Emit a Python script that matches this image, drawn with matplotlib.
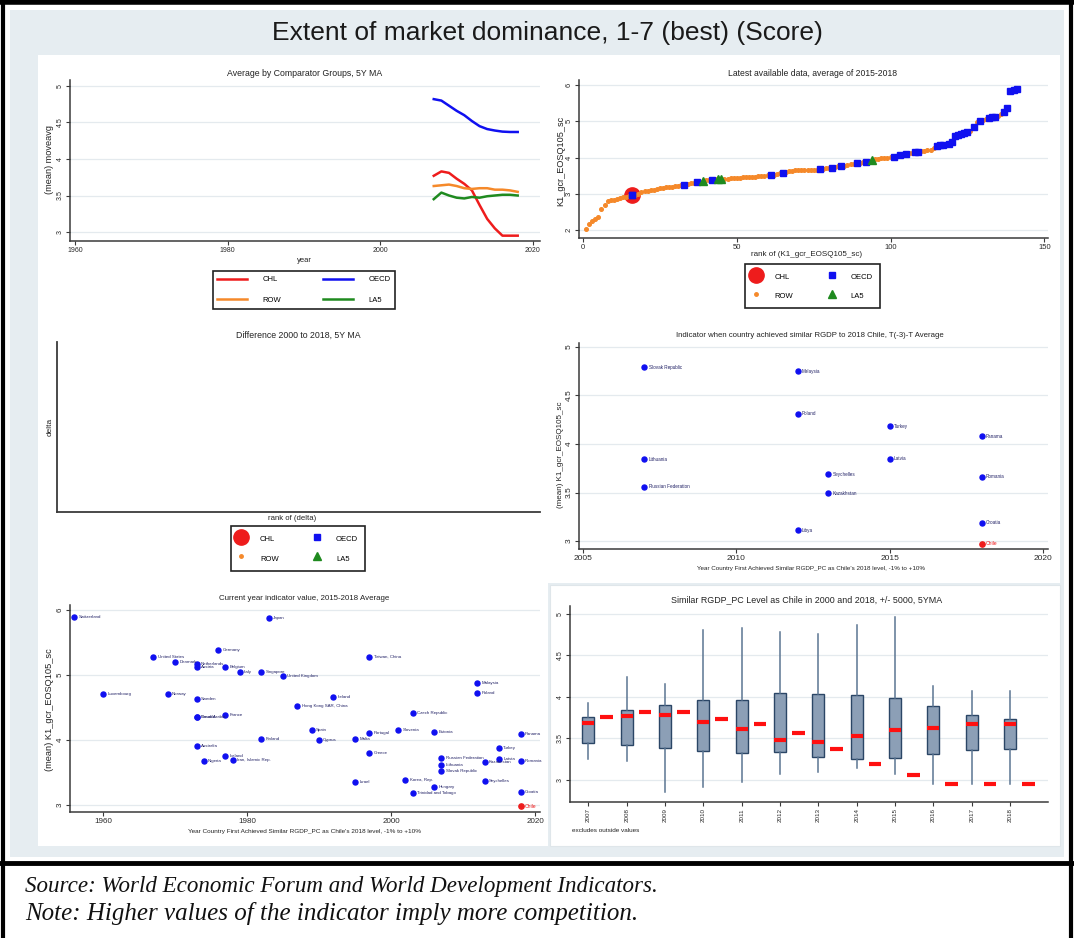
import matplotlib.pyplot as plt
from matplotlib.patches import Rectangle
from matplotlib.lines import Line2D

plt.rcParams['font.family'] = ['Liberation Sans', 'DejaVu Sans']

W, H = 1074, 938

# ---------------- data ----------------
ma_years = list(range(2007, 2019))
ma_chl = [3.77, 3.83, 3.81, 3.73, 3.66, 3.57, 3.37, 3.18, 3.05, 2.95, 2.95, 2.95]
ma_oecd = [4.82, 4.80, 4.73, 4.66, 4.60, 4.52, 4.45, 4.41, 4.39, 4.375, 4.37, 4.37]
ma_row = [3.63, 3.64, 3.65, 3.63, 3.60, 3.59, 3.60, 3.60, 3.58, 3.58, 3.57, 3.55]
ma_la5 = [3.45, 3.54, 3.50, 3.47, 3.46, 3.48, 3.47, 3.49, 3.50, 3.51, 3.51, 3.50]

# sorted scores, rank = position in list
rank_score = [
    2.03, 2.18, 2.25, 2.31, 2.37, 2.57, 2.70, 2.80, 2.82, 2.84,
    2.86, 2.88, 2.90, 2.92, 2.94, 2.96, 2.97, 3.00, 3.04, 3.07,
    3.09, 3.10, 3.11, 3.13, 3.15, 3.17, 3.18, 3.19, 3.20, 3.21,
    3.22, 3.23, 3.24, 3.26, 3.29, 3.31, 3.32, 3.33, 3.35, 3.37,
    3.38, 3.39, 3.40, 3.41, 3.42, 3.42, 3.42, 3.43, 3.43, 3.44,
    3.44, 3.45, 3.45, 3.46, 3.47, 3.47, 3.48, 3.49, 3.50, 3.51,
    3.51, 3.53, 3.54, 3.56, 3.58, 3.60, 3.62, 3.64, 3.65, 3.65,
    3.66, 3.66, 3.66, 3.67, 3.67, 3.67, 3.68, 3.69, 3.70, 3.71,
    3.72, 3.75, 3.76, 3.77, 3.78, 3.80, 3.82, 3.83, 3.84, 3.86,
    3.88, 3.89, 3.90, 3.92, 3.95, 3.97, 3.98, 3.99, 4.00, 4.01,
    4.02, 4.03, 4.06, 4.10, 4.11, 4.12, 4.13, 4.14, 4.16, 4.17,
    4.18, 4.20, 4.22, 4.26, 4.32, 4.35, 4.36, 4.37, 4.38, 4.42,
    4.60, 4.63, 4.66, 4.68, 4.70, 4.72, 4.85, 4.97, 5.00, 5.03,
    5.05, 5.10, 5.12, 5.13, 5.15, 5.20, 5.25, 5.37, 5.85, 5.87, 5.88]
# R = rest of world, O = OECD, L = LA5, C = Chile (also OECD)
rank_group = list("RRRRRRRRRR" "RRRRRRCRRR" "RRRRRRRRRR" "RRRORRRORL"
                  "RRORLLRRRR" "RRRRRRRRRR" "RORRRORRRR" "RRRRRRRORR"
                  "RORRORRRRO" "RRORLRRRRR" "RORORORROO" "RRRRROOORO"
                  "OOOOOOROROR" "ROOORROOOOO"[1:])

mr_country = ['Slovak Republic', 'Malaysia', 'Poland', 'Turkey', 'Panama', 'Lithuania', 'Latvia',
              'Seychelles', 'Romania', 'Russian Federation', 'Kazakhstan', 'Croatia', 'Libya']
mr_year = [2007, 2012, 2012, 2015, 2018, 2007, 2015, 2013, 2018, 2007, 2013, 2018, 2012]
mr_value = [4.79, 4.75, 4.31, 4.18, 4.08, 3.84, 3.85, 3.69, 3.66, 3.56, 3.49, 3.19, 3.11]
mr_chile = (2018, 2.97)

bl_country = ['Switzerland', 'Japan', 'Germany', 'United States', 'Denmark', 'Netherlands', 'Austria',
              'Belgium', 'Italy', 'Singapore', 'United Kingdom', 'Taiwan, China', 'Luxembourg', 'Norway',
              'Sweden', 'Ireland', 'Hong Kong SAR, China', 'Canada', 'Saudi Arabia', 'France',
              'Malaysia', 'Poland', 'Czech Republic', 'Spain', 'Slovenia', 'Estonia', 'Portugal',
              'Panama', 'Finland', 'Cyprus', 'Malta', 'Australia', 'Greece', 'Turkey', 'Iceland',
              'Iran, Islamic Rep.', 'Nigeria', 'Russian Federation', 'Latvia', 'Kazakhstan', 'Romania',
              'Lithuania', 'Slovak Republic', 'Korea, Rep.', 'Israel', 'Seychelles', 'Hungary',
              'Trinidad and Tobago', 'Croatia']
bl_year = [1956, 1983, 1976, 1967, 1970, 1973, 1973, 1977, 1979, 1982, 1985, 1997, 1960, 1969,
           1973, 1992, 1987, 1973, 1973, 1977, 2012, 2012, 2003, 1989, 2001, 2006, 1997,
           2018, 1982, 1990, 1995, 1973, 1997, 2015, 1977, 1978, 1974, 2007, 2015, 2013, 2018,
           2007, 2007, 2002, 1995, 2013, 2006, 2003, 2018]
bl_value = [5.89, 5.88, 5.39, 5.27, 5.20, 5.17, 5.13, 5.13, 5.04, 5.04, 4.99, 5.28, 4.71, 4.71,
            4.63, 4.66, 4.53, 4.35, 4.35, 4.38, 4.87, 4.73, 4.42, 4.15, 4.15, 4.12, 4.10,
            4.09, 4.02, 4.00, 4.02, 3.91, 3.80, 3.87, 3.76, 3.69, 3.67, 3.73, 3.71, 3.66, 3.67,
            3.61, 3.53, 3.38, 3.35, 3.37, 3.27, 3.18, 3.20]
bl_chile = (2018, 2.98)

box_years = [2007, 2008, 2009, 2010, 2011, 2012, 2013, 2014, 2015, 2016, 2017, 2018]
box_lo = [3.25, 3.23, 2.85, 2.91, 2.98, 3.07, 3.10, 3.15, 3.07, 2.95, 2.95, 2.95]
box_q1 = [3.45, 3.42, 3.38, 3.35, 3.33, 3.34, 3.28, 3.25, 3.26, 3.31, 3.36, 3.37]
box_med = [3.69, 3.77, 3.78, 3.70, 3.62, 3.48, 3.46, 3.53, 3.60, 3.63, 3.67, 3.68]
box_q3 = [3.76, 3.84, 3.90, 3.96, 3.96, 4.05, 4.03, 4.02, 3.99, 3.89, 3.78, 3.74]
box_hi = [3.93, 4.24, 4.16, 4.81, 4.83, 4.78, 4.76, 4.87, 4.96, 4.13, 4.07, 4.07]
box_chile = [3.76, 3.82, 3.82, 3.74, 3.67, 3.57, 3.37, 3.19, 3.06, 2.95, 2.95, 2.95]

C_RED, C_BLUE, C_ORANGE, C_GREEN = '#ee1c1c', '#1010f0', '#f5892a', '#1f8a1f'
AX_C = '#3a3a3a'

# ---------------- helpers ----------------
fig = plt.figure(figsize=(W / 100, H / 100), dpi=100)
fig.patch.set_facecolor('white')


def rect(x0, y0, x1, y1, fc, ec='none', lw=0):
    fig.add_artist(Rectangle((x0 / W, 1 - y1 / H), (x1 - x0) / W, (y1 - y0) / H,
                             transform=fig.transFigure, facecolor=fc, edgecolor=ec, lw=lw,
                             zorder=-10))


def fline(x0, y0, x1, y1, lw=3.2):
    fig.add_artist(Line2D([x0 / W, x1 / W], [1 - y0 / H, 1 - y1 / H],
                          transform=fig.transFigure, color='black', lw=lw, zorder=-5))


def ftext(x, y, s, width=None, **kw):
    kw.setdefault('ha', 'center')
    kw.setdefault('va', 'center')
    kw.setdefault('color', '#222222')
    t = fig.text(x / W, 1 - y / H, s, **kw)
    if width:
        bb = t.get_window_extent(fig.canvas.get_renderer())
        t.set_fontsize(t.get_fontsize() * width / max(bb.width, bb.height))
    return t


def px_axes(x0, y0, x1, y1):
    a = fig.add_axes([x0 / W, 1 - y1 / H, (x1 - x0) / W, (y1 - y0) / H])
    a.patch.set_alpha(0)
    return a


def stata(ax, size=5):
    ax.spines[['top', 'right']].set_visible(False)
    for s in ['left', 'bottom']:
        ax.spines[s].set_color(AX_C)
        ax.spines[s].set_linewidth(1.1)
    ax.tick_params(labelsize=size, length=3, width=0.8, color=AX_C, labelcolor='#2a2a2a', pad=1.5)
    ax.grid(axis='y', color='#e4eaee', lw=0.9)
    ax.set_axisbelow(True)
    plt.setp(ax.get_yticklabels(), rotation=90, va='center')


def marker_legend(ax, cx, cy, fs=5.5):
    hs = [Line2D([], [], marker='o', ls='none', color=C_RED, ms=11),
          Line2D([], [], marker='o', ls='none', color=C_ORANGE, ms=2.5),
          Line2D([], [], marker='s', ls='none', color=C_BLUE, ms=3.8),
          Line2D([], [], marker='^', ls='none', color=C_GREEN, ms=5.5)]
    leg = ax.legend(hs, ['CHL', 'ROW', 'OECD', 'LA5'], ncol=2, loc='center',
                    bbox_to_anchor=(cx / W, 1 - cy / H), bbox_transform=fig.transFigure,
                    fontsize=fs, fancybox=False, edgecolor='#222222', framealpha=1,
                    handlelength=0.9, handleheight=2.0, handletextpad=2.0,
                    columnspacing=4.6, labelspacing=1.0, borderpad=0.9)
    leg.get_frame().set_linewidth(1.2)
    return leg


# ---------------- backgrounds & frame ----------------
rect(10, 10, 1064, 857, '#e6edf1')
rect(38, 55, 1060, 583, 'white')
rect(38, 583, 548, 846, 'white')
rect(550, 585, 1060, 846, 'white', ec='#dfe6ea', lw=0.8)
fline(0, 2, W, 2, lw=4)
fline(3, 0, 3, H, lw=3)
fline(1071, 0, 1071, H, lw=3)
fline(0, 863, W, 863, lw=3.5)

ftext(547, 33, 'Extent of market dominance, 1-7 (best) (Score)', width=551, fontsize=17, color='#1a1a1a')
ftext(25, 886, 'Source: World Economic Forum and World Development Indicators.', width=635,
      ha='left', fontsize=15, family=['Liberation Serif'], style='italic', color='#111111')
ftext(25, 913, 'Note: Higher values of the indicator imply more competition.', width=615,
      ha='left', fontsize=15, family=['Liberation Serif'], style='italic', color='#111111')

# ---------------- top-left: moving averages ----------------
ax = px_axes(70, 80, 540, 241)
ax.plot(ma_years, ma_chl, color=C_RED, lw=1.8)
ax.plot(ma_years, ma_oecd, color=C_BLUE, lw=1.8)
ax.plot(ma_years, ma_row, color=C_ORANGE, lw=1.8)
ax.plot(ma_years, ma_la5, color=C_GREEN, lw=1.8)
ax.set_xlim(1959.35, 2020.92)
ax.set_ylim(2.877, 5.082)
ax.set_xticks([1960, 1980, 2000, 2020])
ax.set_yticks([3, 3.5, 4, 4.5, 5], ['3', '3.5', '4', '4.5', '5'])
stata(ax, 5)
ftext(305, 73, 'Average by Comparator Groups, 5Y MA', width=156)
ftext(50, 160, '(mean) moveavg', width=69, rotation=90)
ftext(304, 261, 'year', width=15)
hs = [Line2D([], [], color=c, lw=1.8) for c in [C_RED, C_ORANGE, C_BLUE, C_GREEN]]
leg = ax.legend(hs, ['CHL', 'ROW', 'OECD', 'LA5'], ncol=2, loc='center',
                bbox_to_anchor=(304 / W, 1 - 290 / H), bbox_transform=fig.transFigure,
                fontsize=5.5, fancybox=False, edgecolor='#222222', framealpha=1,
                handlelength=3.9, handletextpad=2.0, columnspacing=5.5, labelspacing=1.75,
                borderpad=0.6)
leg.get_frame().set_linewidth(1.2)

# ---------------- top-right: ranking ----------------
ax = px_axes(579, 80, 1048, 238)
ranks = list(range(1, len(rank_score) + 1))
for g, kw in [('R', dict(marker='o', color=C_ORANGE, ms=2.6)),
              ('O', dict(marker='s', color=C_BLUE, ms=3.8)),
              ('L', dict(marker='^', color=C_GREEN, ms=5.5))]:
    xs = [r for r, gg in zip(ranks, rank_group) if gg == g or (g == 'O' and gg == 'C')]
    ys = [v for v, gg in zip(rank_score, rank_group) if gg == g or (g == 'O' and gg == 'C')]
    ax.plot(xs, ys, ls='none', **kw)
xs = [r for r, gg in zip(ranks, rank_group) if gg == 'C']
ys = [v for v, gg in zip(rank_score, rank_group) if gg == 'C']
ax.plot(xs, ys, ls='none', marker='o', color=C_RED, ms=11, zorder=1.5)
ax.plot(xs, ys, ls='none', marker='s', color=C_BLUE, ms=3.8, zorder=3)
ax.set_xlim(-1.3, 151.2)
ax.set_ylim(1.78, 6.14)
ax.set_xticks([0, 50, 100, 150])
ax.set_yticks([2, 3, 4, 5, 6])
stata(ax, 5.5)
ftext(813, 73, 'Latest available data, average of 2015-2018', width=170)
ftext(561, 161, 'K1_gcr_EOSQ105_sc', width=90, rotation=90)
ftext(807, 254, 'rank of (K1_gcr_EOSQ105_sc)', width=112)
marker_legend(ax, 812.5, 286)

# ---------------- middle-left: empty delta ----------------
ax = px_axes(57, 342, 540, 512)
ax.spines[['top', 'right']].set_visible(False)
for s in ['left', 'bottom']:
    ax.spines[s].set_color(AX_C)
    ax.spines[s].set_linewidth(1.3)
ax.set_xticks([])
ax.set_yticks([])
ftext(298, 335, 'Difference 2000 to 2018, 5Y MA', width=125)
ftext(50, 427, 'delta', width=18, rotation=90)
ftext(292, 518, 'rank of (delta)', width=48)
marker_legend(ax, 298, 548.5)

# ---------------- middle-right: similar RGDP ----------------
ax = px_axes(579, 343, 1048, 549)
ax.plot(mr_year, mr_value, ls='none', marker='o', color=C_BLUE, ms=3.6)
for name, x, y in zip(mr_country, mr_year, mr_value):
    ax.annotate(name, (x, y), xytext=(3, 0), textcoords='offset points', fontsize=3.3,
                va='center', color='#222266')
ax.plot([mr_chile[0]], [mr_chile[1]], ls='none', marker='o', color=C_RED, ms=3.8)
ax.annotate('Chile', mr_chile, xytext=(3, 0), textcoords='offset points', fontsize=3.6,
            va='center', color=C_RED)
ax.set_xlim(2004.87, 2020.16)
ax.set_ylim(2.918, 5.04)
ax.set_xticks([2005, 2010, 2015, 2020])
ax.set_yticks([3, 3.5, 4, 4.5, 5], ['3', '3.5', '4', '4.5', '5'])
stata(ax, 6)
ftext(810, 335, 'Indicator when country achieved similar RGDP to 2018 Chile, T(-3)-T Average', width=267)
ftext(561, 455, '(mean) K1_gcr_EOSQ105_sc', width=107, rotation=90)
ftext(811, 568, "Year Country First Achieved Similar RGDP_PC as Chile's 2018 level, -1% to +10%", width=228)

# ---------------- bottom-left: current year ----------------
ax = px_axes(70, 605, 540, 812)
ax.plot(bl_year, bl_value, ls='none', marker='o', color=C_BLUE, ms=3.6)
for name, x, y in zip(bl_country, bl_year, bl_value):
    ax.annotate(name, (x, y), xytext=(3, 0), textcoords='offset points', fontsize=3.2,
                va='center', color='#222266')
ax.plot([bl_chile[0]], [bl_chile[1]], ls='none', marker='o', color=C_RED, ms=3.8)
ax.annotate('Chile', bl_chile, xytext=(3, 0), textcoords='offset points', fontsize=3.6,
            va='center', color=C_RED)
ax.set_xlim(1955.42, 2020.69)
ax.set_ylim(2.892, 6.077)
ax.set_xticks([1960, 1980, 2000, 2020])
ax.set_yticks([3, 4, 5, 6])
stata(ax, 5.8)
ftext(304, 598, 'Current year indicator value, 2015-2018 Average', width=171)
ftext(50, 710, '(mean) K1_gcr_EOSQ105_sc', width=123, rotation=90)
ftext(304, 831, "Year Country First Achieved Similar RGDP_PC as Chile's 2018 level, -1% to +10%", width=233)

# ---------------- bottom-right: boxplots ----------------
ax = px_axes(570, 606, 1048, 802)
ax.patch.set_alpha(1)
stats = [dict(med=m, q1=a, q3=b, whislo=lo, whishi=hi, fliers=[], label=str(y))
         for y, lo, a, m, b, hi in zip(box_years, box_lo, box_q1, box_med, box_q3, box_hi)]
pos = list(range(len(box_years)))
ax.bxp(stats, positions=pos, widths=0.31, patch_artist=True, showcaps=False,
       boxprops=dict(facecolor='#8c9fb6', edgecolor='#2b4666', lw=1.0),
       whiskerprops=dict(color='#5b7592', lw=1.1),
       medianprops=dict(color='#ff1010', lw=3.0))
ax.hlines(box_chile, [p + 0.315 for p in pos], [p + 0.645 for p in pos], color='#ff1010', lw=3.0)
ax.set_xlim(-0.478, 11.99)
ax.set_ylim(2.735, 5.096)
ax.set_yticks([3, 3.5, 4, 4.5, 5], ['3', '3.5', '4', '4.5', '5'])
stata(ax, 5)
ax.tick_params(axis='x', labelsize=4.5, labelrotation=90)
ftext(807, 600, 'Similar RGDP_PC Level as Chile in 2000 and 2018, +/- 5000, 5YMA', width=269)
ftext(572, 831, 'excludes outside values', width=68, ha='left')

fig.savefig('out.png', dpi=100)
